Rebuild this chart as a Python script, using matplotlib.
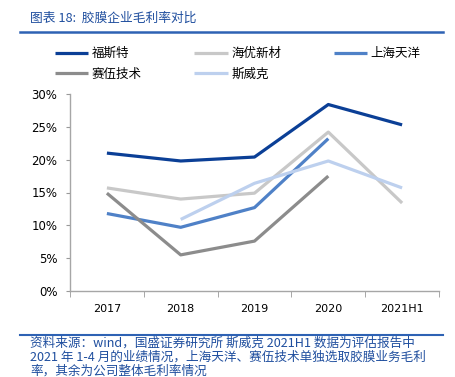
import matplotlib.pyplot as plt
from matplotlib.lines import Line2D
import numpy as np

plt.rcParams['font.family'] = ['DejaVu Sans', 'Noto Sans CJK SC']

years = ['2017', '2018', '2019', '2020', '2021H1']
series_names = ['福斯特', '海优新材', '上海天洋', '赛伍技术', '斯威克']
fst = [21.0, 19.8, 20.4, 28.4, 25.3]
hy = [15.7, 14.0, 14.9, 24.2, 13.4]
shty = [11.8, 9.7, 12.7, 23.2, np.nan]
sw = [14.9, 5.5, 7.6, 17.5, np.nan]
swk = [np.nan, 10.9, 16.4, 19.8, 15.7]
colors = ['#0b3f96', '#c8c8c8', '#4f81c7', '#8c8c8c', '#bdd0ee']

title = '图表 18:  胶膜企业毛利率对比'
note = ['资料来源：wind，国盛证券研究所 斯威克 2021H1 数据为评估报告中',
        '2021 年 1-4 月的业绩情况，上海天洋、赛伍技术单独选取胶膜业务毛利',
        '率，其余为公司整体毛利率情况']
blue = '#1f4e9e'
cjk = ['Noto Sans CJK SC', 'DejaVu Sans']

fig = plt.figure(figsize=(4.55, 3.77), dpi=100)
ax = fig.add_axes([70/455, 1-291/377, 369/455, 197/377])

x = np.arange(len(years))
handles = []
for vals, name, c in zip([fst, hy, shty, sw, swk], series_names, colors):
    ln, = ax.plot(x, np.array(vals) / 100, color=c, lw=2.3, label=name,
                  solid_capstyle='butt')
    handles.append(ln)

ax.set_xlim(-0.5, len(years) - 0.5)
ax.set_ylim(0, 0.30)
ax.set_yticks(np.arange(0, 0.31, 0.05))
ax.set_yticklabels([f'{int(round(v*100))}%' for v in np.arange(0, 0.31, 0.05)])
ax.set_xticks(x)
ax.set_xticklabels(years)
ax.set_xticks(np.arange(-0.5, len(years), 1.0), minor=True)
ax.tick_params(axis='x', which='major', length=0, pad=9, labelsize=8)
ax.tick_params(axis='x', which='minor', length=4, color='#999999', direction='out')
ax.tick_params(axis='y', length=3, color='#999999', labelsize=8.5, pad=6)
for s in ['top', 'right']:
    ax.spines[s].set_visible(False)
for s in ['left', 'bottom']:
    ax.spines[s].set_color('#a6a6a6')
    ax.spines[s].set_linewidth(1.0)

order = [0, 3, 1, 4, 2]
fig.legend([handles[i] for i in order], [series_names[i] for i in order],
           ncol=3, loc='upper left', bbox_to_anchor=(55/455, 1-47/377),
           frameon=False, prop={'family': cjk, 'size': 9},
           handlelength=2.65, handletextpad=0.3, columnspacing=4.2,
           labelspacing=0.6, borderaxespad=0, borderpad=0)

fig.text(30/455, 1-18/377, title, color=blue, fontsize=9.2, family=cjk,
         style='italic', va='center')
fig.add_artist(Line2D([20/455, 443/455], [1-32/377, 1-32/377], color='#2e62b4', lw=1.8))
fig.add_artist(Line2D([20/455, 443/455], [1-335/377, 1-335/377], color='#2e62b4', lw=1.5))
for i, t in enumerate(note):
    fig.text(30/455, 1-(343 + i*14)/377, t, color=blue, fontsize=9.1,
             family=cjk, style='italic', va='center')

fig.savefig('out.png', dpi=100)
